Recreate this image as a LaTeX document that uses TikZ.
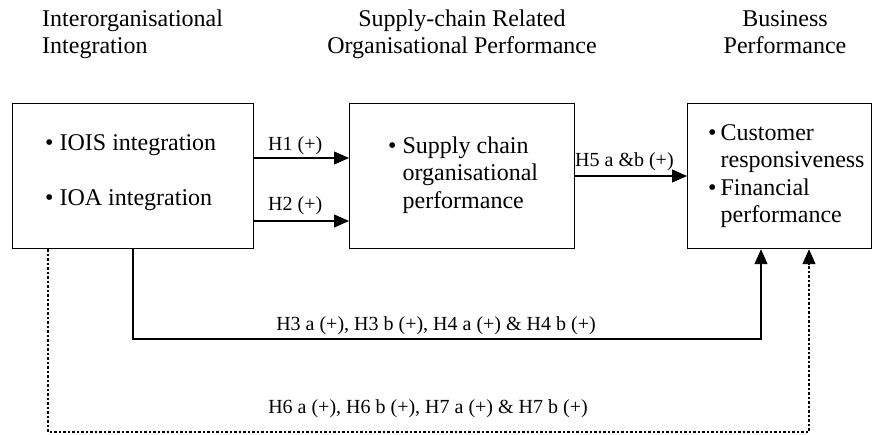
\documentclass[tikz,border=0pt]{standalone}
\usepackage{fontspec}
\setmainfont{Liberation Serif}
\usetikzlibrary{arrows.meta}
\tikzset{
  box/.style={draw, line width=1.2pt, inner sep=0pt, anchor=north west},
  big/.style={font=\fontsize{24}{27.5}\selectfont, inner sep=0pt},
  lab/.style={font=\fontsize{20}{24}\selectfont, inner sep=0pt},
  conn/.style={line width=1.2pt, -{Triangle[length=15pt,width=13pt]}},
  dconn/.style={conn, dash pattern=on 2.5pt off 2pt},
}
\newcommand{\bl}{\begin{tabular}[t]{@{}l@{\hspace{6pt}}l@{}}}
\newcommand{\blc}{\begin{tabular}[t]{@{}l@{\hspace{4pt}}l@{}}}
\begin{document}
\begin{tikzpicture}[x=1pt,y=-1pt]
\useasboundingbox (0,0) rectangle (873,434);
% headers
\node[big, anchor=base west] (h1) at (42,26) {\begin{tabular}[t]{@{}l@{}}Interorganisational\\Integration\end{tabular}};
\node[big, anchor=base] (h2) at (462,26) {\begin{tabular}[t]{@{}c@{}}Supply-chain Related\\Organisational Performance\end{tabular}};
\node[big, anchor=base] (h3) at (785,26) {\begin{tabular}[t]{@{}c@{}}Business\\Performance\end{tabular}};
% boxes
\node[box, minimum width=241pt, minimum height=145pt] (b1) at (12,103) {};
\node[box, minimum width=225pt, minimum height=145pt] (b2) at (349,103) {};
\node[box, minimum width=184pt, minimum height=145pt] (b3) at (687,103) {};
% box texts
\node[big, anchor=base west] (t1a) at (45,150) {•\hspace{6pt}IOIS integration};
\node[big, anchor=base west] (t1b) at (45,205) {•\hspace{6pt}IOA integration};
\node[big, anchor=base west] (t2) at (388,153) {\bl • & Supply chain\\ & organisational\\ & performance\end{tabular}};
\node[big, anchor=base west] (t3) at (708,140) {\blc • & Customer\\ & responsiveness\\ • & Financial\\ & performance\end{tabular}};
% connectors
\coordinate (y1) at (0,158);
\coordinate (y2) at (0,221);
\coordinate (y5) at (0,176);
\draw[conn] (b1.east |- y1) -- (b2.west |- y1);
\draw[conn] (b1.east |- y2) -- (b2.west |- y2);
\draw[conn] (b2.east |- y5) -- (b3.west |- y5);
\coordinate (s1) at (133,339);
\coordinate (s2) at (761,339);
\draw[conn] (b1.south -| s1) -- (s1) -- (s2) -- (b3.south -| s2);
\coordinate (d1) at (48,432);
\coordinate (d2) at (809,432);
\draw[dconn] (b1.south -| d1) -- (d1) -- (d2) -- (b3.south -| d2);
% labels
\node[lab, anchor=base west] (l1) at (268,150) {H1 (+)};
\node[lab, anchor=base west] (l2) at (268,210) {H2 (+)};
\node[lab, anchor=base west] (l5) at (575,166) {H5 a \&b (+)};
\node[lab, anchor=base] (l3) at (436,330) {H3 a (+), H3 b (+), H4 a (+) \& H4 b (+)};
\node[lab, anchor=base] (l6) at (428,413) {H6 a (+), H6 b (+), H7 a (+) \& H7 b (+)};
\end{tikzpicture}
\end{document}
